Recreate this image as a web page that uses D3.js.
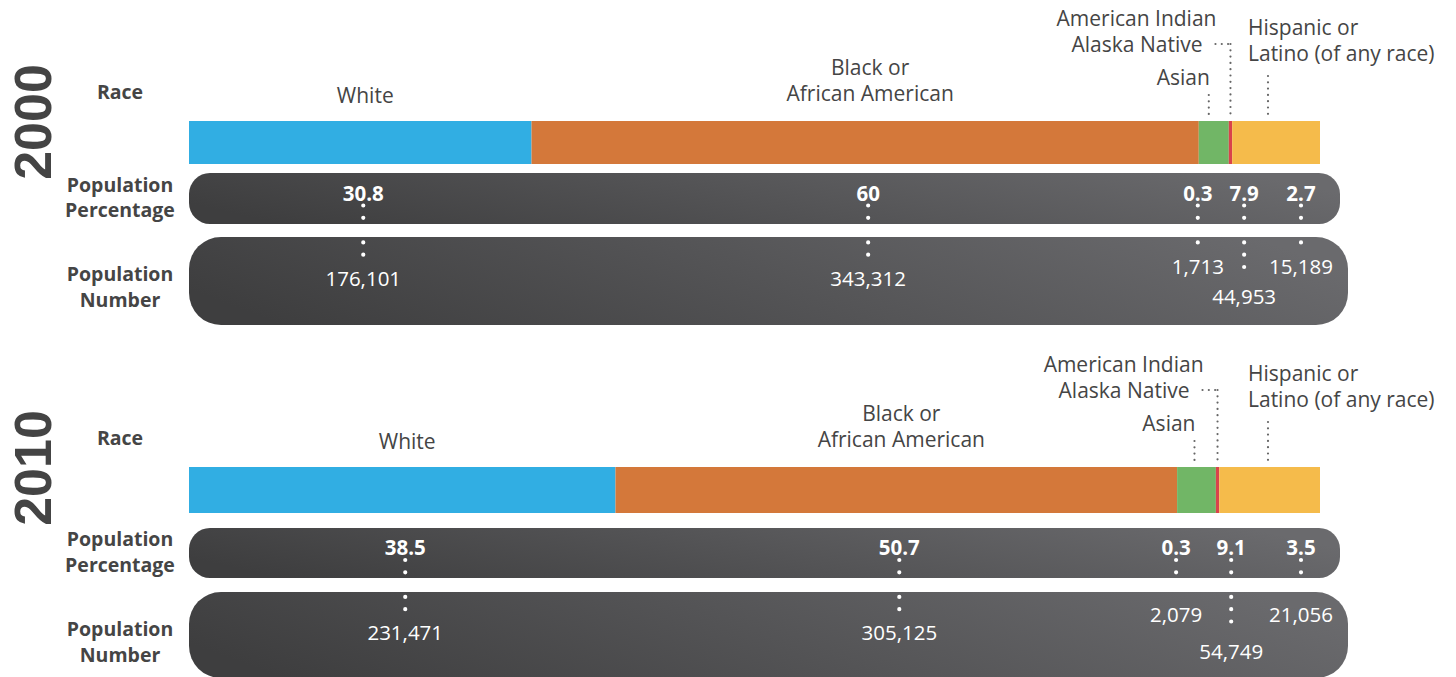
<!DOCTYPE html>
<html>
<head>
<meta charset="utf-8">
<script src="https://cdn.jsdelivr.net/npm/d3@7"></script>
<style>
  html, body { margin: 0; padding: 0; background: #fff; }
  svg { display: block; font-family: "Open Sans", "Noto Sans", sans-serif; }
</style>
</head>
<body>
<svg id="chart" width="1456" height="677"></svg>
<script>
// data
var years = ["2000", "2010"];
var races = ["White", "Black or African American", "Asian", "American Indian Alaska Native", "Hispanic or Latino (of any race)"];
var raceLines = [["White"], ["Black or", "African American"], ["Asian"], ["American Indian", "Alaska Native"], ["Hispanic or", "Latino (of any race)"]];
var colors = ["#31aee3", "#d4783a", "#71b666", "#d9434b", "#f5bb4b"];
var pct2000 = [30.8, 60, 2.7, 0.3, 7.9];
var pct2010 = [38.5, 50.7, 3.5, 0.3, 9.1];
var num2000 = [176101, 343312, 15189, 1713, 44953];
var num2010 = [231471, 305125, 21056, 2079, 54749];
var rowLabels = [["Race"], ["Population", "Percentage"], ["Population", "Number"]];

var panels = [
  { year: years[0], pct: pct2000, num: num2000, barY: 121, barH: 43, pctY: 173, pctH: 51, numY: 237, numH: 88, numDy: [42, 30, 60] },
  { year: years[1], pct: pct2010, num: num2010, barY: 467, barH: 46, pctY: 528, pctH: 50, numY: 592, numH: 86, numDy: [41, 23, 60] }
];

var svg = d3.select("#chart");
var fmt = d3.format(",");
var textCol = "#454545";
var labelSize = 21;

var defs = svg.append("defs");
var grad = defs.append("linearGradient").attr("id", "pill").attr("x1", "0").attr("y1", "0.6").attr("x2", "1").attr("y2", "0.4");
grad.append("stop").attr("offset", "0").attr("stop-color", "#3e3e3f");
grad.append("stop").attr("offset", "1").attr("stop-color", "#6a6a6d");

// which small-category slot each race sits in under the bar (white/black use their own centre)
var slotOf = [-1, -1, 2, 0, 1];

panels.forEach(function(p) {
  var g = svg.append("g");
  var x = d3.scaleLinear().domain([0, d3.sum(p.pct)]).range([189, 1320]);
  var ends = Array.from(d3.cumsum(p.pct));
  var starts = ends.map(function(e, i) { return e - p.pct[i]; });

  // year
  g.append("text")
    .attr("transform", "translate(51," + (p.barY + 1) + ") rotate(-90)")
    .attr("text-anchor", "middle")
    .attr("font-family", "'Liberation Sans', Arial, sans-serif")
    .attr("font-size", 52).attr("font-weight", 700).attr("fill", "#444")
    .text(p.year);

  // row labels
  var rowCy = [p.barY - 29, p.pctY + p.pctH / 2 - 1, p.numY + 50];
  rowLabels.forEach(function(lines, r) {
    lines.forEach(function(l, k) {
      g.append("text")
        .attr("x", 120).attr("y", rowCy[r] + (k - (lines.length - 1) / 2) * 25.5)
        .attr("dy", "0.35em").attr("text-anchor", "middle")
        .attr("font-size", 19.5).attr("font-weight", 700).attr("fill", textCol)
        .text(l);
    });
  });

  // stacked bar
  g.selectAll("rect.seg").data(p.pct).enter().append("rect")
    .attr("class", "seg")
    .attr("x", function(d, i) { return x(starts[i]); })
    .attr("y", p.barY)
    .attr("width", function(d, i) { return x(ends[i]) - x(starts[i]); })
    .attr("height", p.barH)
    .attr("fill", function(d, i) { return colors[i]; });

  var mid = function(i) { return (x(starts[i]) + x(ends[i])) / 2; };

  // big race labels
  [0, 1].forEach(function(i) {
    var lines = raceLines[i];
    lines.forEach(function(l, k) {
      g.append("text")
        .attr("x", mid(i) + 5)
        .attr("y", (i === 0 ? p.barY - 25 : p.barY - 27) - (lines.length - 1 - k) * 26)
        .attr("dy", "0.35em").attr("text-anchor", "middle")
        .attr("font-size", labelSize).attr("fill", textCol)
        .text(l);
    });
  });

  var leader = function(x1, y1, x2, y2) {
    g.append("line").attr("x1", x1).attr("y1", y1).attr("x2", x2).attr("y2", y2)
      .attr("stroke", "#666").attr("stroke-width", 2.2)
      .attr("stroke-linecap", "round").attr("stroke-dasharray", "0,6.3");
  };

  // Asian
  var ax = mid(2) - (p.year === "2000" ? 5 : 2);
  g.append("text").attr("x", ax + 1).attr("y", p.barY - 43).attr("dy", "0.35em")
    .attr("text-anchor", "end").attr("font-size", labelSize).attr("fill", textCol).text(raceLines[2][0]);
  leader(ax, p.barY - 26, ax, p.barY - 4);

  // American Indian Alaska Native
  var ix = mid(3);
  g.append("text").attr("x", ix - 14).attr("y", p.barY - 102).attr("dy", "0.35em")
    .attr("text-anchor", "end").attr("font-size", labelSize).attr("fill", textCol).text(raceLines[3][0]);
  g.append("text").attr("x", ix - 28).attr("y", p.barY - 76).attr("dy", "0.35em")
    .attr("text-anchor", "end").attr("font-size", labelSize).attr("fill", textCol).text(raceLines[3][1]);
  leader(ix - 15, p.barY - 77, ix, p.barY - 77);
  leader(ix, p.barY - 77, ix, p.barY - 4);

  // Hispanic
  var hx = x.range()[1] - 72;
  raceLines[4].forEach(function(l, k) {
    g.append("text").attr("x", hx).attr("y", p.barY - 93 + k * 26).attr("dy", "0.35em")
      .attr("font-size", labelSize).attr("fill", textCol).text(l);
  });
  leader(hx + 20, p.barY - 45, hx + 20, p.barY - 4);

  // pills
  g.append("rect").attr("x", 189).attr("y", p.pctY).attr("width", 1340 - 189).attr("height", p.pctH)
    .attr("rx", 21).attr("fill", "url(#pill)");
  g.append("rect").attr("x", 189).attr("y", p.numY).attr("width", 1348 - 189).attr("height", p.numH)
    .attr("rx", 32).attr("fill", "url(#pill)");

  var slotX = [x(starts[2]) - 1, x(ends[3]) + 12, x.range()[1] - 19];
  var pctCy = p.pctY + p.pctH / 2 - 5;

  p.pct.forEach(function(v, i) {
    var s = slotOf[i];
    var cx = s < 0 ? mid(i) + 3 : slotX[s];
    var ny = p.numY + (s < 0 ? p.numDy[0] : (s === 1 ? p.numDy[2] : p.numDy[1]));
    g.append("line").attr("x1", cx).attr("x2", cx)
      .attr("y1", pctCy + 12).attr("y2", ny - 20)
      .attr("stroke", "#fff").attr("stroke-width", 4.2)
      .attr("stroke-linecap", "round").attr("stroke-dasharray", "0,12.3");
    g.append("text").attr("x", cx).attr("y", pctCy).attr("dy", "0.35em")
      .attr("text-anchor", "middle").attr("font-size", 20.5).attr("font-weight", 700)
      .attr("fill", "#fff").text(String(v));
    g.append("text").attr("x", cx).attr("y", ny).attr("dy", "0.35em")
      .attr("text-anchor", "middle").attr("font-size", 20.5).attr("fill", "#fff")
      .text(fmt(p.num[i]));
  });
});
</script>
</body>
</html>
